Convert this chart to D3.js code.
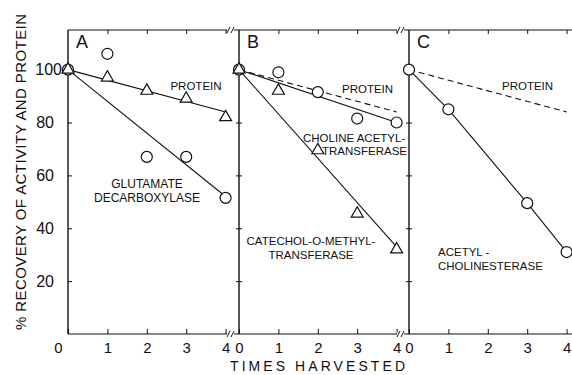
<!DOCTYPE html>
<html>
<head>
<meta charset="utf-8">
<script src="https://cdn.jsdelivr.net/npm/d3@7"></script>
<style>
  body { margin: 0; background: #fff; }
  svg { display: block; }
</style>
</head>
<body>
<svg width="572" height="375"></svg>
<script>
var times = [0, 1, 2, 3, 4];
var panelNames = ['A', 'B', 'C'];
var yTicks = [20, 40, 60, 80, 100];

// panel A
var proteinA = [100, 97, 92, 89, 82];
var glutamateA = [100, 106, 67, 67, 51.5];
// panel B
var cholineB = [100, 99, 91.5, 81.5, 80];
var catecholB = [100, 92, 69.5, 45.5, 32];
// panel C (nothing measured at 2)
var acetylC = [100, 85, null, 49.5, 31];

// fitted lines : value at first and last harvest
var fitTimes = [0, 4];
var proteinFitA = [100, 84];
var glutamateFitA = [100, 52];
var cholineFitB = [100, 80];
var catecholFitB = [100, 33];
var proteinFitB = [100, 84];
var proteinFitC = [100, 84];

var svg = d3.select('svg');
var narrow = '"Liberation Sans Narrow","Liberation Sans",Arial,sans-serif';
var plain = '"Liberation Sans",Arial,sans-serif';
var ink = '#111';

var panelLeft = [68, 239, 409];
var panelRight = [239, 409, 572];
var unit = 39.4;
var topY = 30, bottomY = 334;

var y = d3.scaleLinear().domain([0, 115]).range([bottomY, topY]);
var xs = panelLeft.map(function (x0) {
  return d3.scaleLinear().domain([0, 4]).range([x0, x0 + 4 * unit]);
});

// frame and axes
xs.forEach(function (x, i) {
  var x0 = panelLeft[i];

  svg.append('line')
  .attr('x1', x0).attr('x2', panelRight[i])
  .attr('y1', topY).attr('y2', topY)
  .attr('stroke', ink).attr('stroke-width', 1.2);

  svg.append('line')
  .attr('x1', x0).attr('x2', panelRight[i])
  .attr('y1', bottomY).attr('y2', bottomY)
  .attr('stroke', ink).attr('stroke-width', 1.2);

  svg.append('line')
  .attr('x1', x0).attr('x2', x0)
  .attr('y1', topY).attr('y2', bottomY)
  .attr('stroke', ink).attr('stroke-width', 1.4);

  var gb = svg.append('g')
  .attr('transform', 'translate(0,' + bottomY + ')')
  .call(d3.axisBottom(x).tickValues(times).tickSizeInner(-5).tickSizeOuter(0)
    .tickPadding(8).tickFormat(d3.format('d')));
  gb.select('.domain').remove();
  gb.attr('font-family', narrow).attr('font-size', 15);
  gb.selectAll('line').attr('stroke', ink);
  gb.selectAll('text').attr('fill', ink);
  if (i == 0) {
    gb.selectAll('text').filter(function (d) { return d == 0; }).attr('dx', -10);
  }

  var gt = svg.append('g')
  .attr('transform', 'translate(0,' + topY + ')')
  .call(d3.axisTop(x).tickValues(times.slice(1)).tickSizeInner(-4).tickSizeOuter(0).tickFormat(''));
  gt.select('.domain').remove();
  gt.selectAll('line').attr('stroke', ink);

  var gl;
  if (i == 0) {
    gl = svg.append('g')
    .attr('transform', 'translate(' + x0 + ',0)')
    .call(d3.axisLeft(y).tickValues(yTicks).tickSizeInner(-4).tickSizeOuter(0).tickPadding(14));
    gl.attr('font-family', narrow).attr('font-size', 16);
    gl.selectAll('text').attr('fill', ink);
    gl.selectAll('text').filter(function (d) { return d == 100; }).attr('dx', 8);
  } else {
    gl = svg.append('g')
    .attr('transform', 'translate(' + (x0 + 3) + ',0)')
    .call(d3.axisLeft(y).tickValues(yTicks).tickSizeInner(6).tickSizeOuter(0).tickFormat(''));
  }
  gl.select('.domain').remove();
  gl.selectAll('line').attr('stroke', ink);

  // panel letter
  svg.append('text')
  .text(panelNames[i])
  .attr('x', x0 + 8)
  .attr('y', 48)
  .attr('font-family', narrow)
  .attr('font-size', 18)
  .attr('fill', ink);
});

// axis breaks between panels
[1, 2].forEach(function (i) {
  [topY, bottomY].forEach(function (yy) {
    var bx = panelLeft[i] - 8;
    svg.append('rect')
    .attr('x', bx - 4).attr('y', yy - 1.5).attr('width', 7).attr('height', 3)
    .attr('fill', '#fff');
    svg.append('path')
    .attr('d', 'M' + (bx - 4) + ',' + (yy + 3) + ' L' + (bx - 1) + ',' + (yy - 3) +
      ' M' + (bx) + ',' + (yy + 3) + ' L' + (bx + 3) + ',' + (yy - 3))
    .attr('fill', 'none').attr('stroke', ink).attr('stroke-width', 1);
  });
});

function drawLine(x, xsVals, ysVals, dashed) {
  var pts = xsVals.map(function (t, k) { return [t, ysVals[k]]; })
  .filter(function (p) { return p[1] != null; });
  svg.append('path')
  .datum(pts)
  .attr('fill', 'none')
  .attr('stroke', ink)
  .attr('stroke-width', 1.1)
  .attr('stroke-dasharray', dashed ? '6,4' : null)
  .attr('d', d3.line().x(function (p) { return x(p[0]); }).y(function (p) { return y(p[1]); }));
}

function drawCircles(x, vals) {
  svg.append('g').selectAll('circle')
  .data(times.map(function (t, k) { return [t, vals[k]]; }).filter(function (p) { return p[1] != null; }))
  .enter().append('circle')
  .attr('cx', function (p) { return x(p[0]); })
  .attr('cy', function (p) { return y(p[1]); })
  .attr('r', 5.5)
  .attr('fill', '#fff')
  .attr('stroke', ink)
  .attr('stroke-width', 1.2);
}

function drawTriangles(x, vals) {
  svg.append('g').selectAll('path')
  .data(times.map(function (t, k) { return [t, vals[k]]; }))
  .enter().append('path')
  .attr('d', d3.symbol(d3.symbolTriangle, 62))
  .attr('transform', function (p) { return 'translate(' + x(p[0]) + ',' + y(p[1]) + ')'; })
  .attr('fill', '#fff')
  .attr('stroke', ink)
  .attr('stroke-width', 1.2);
}

// panel A
drawLine(xs[0], fitTimes, proteinFitA, false);
drawLine(xs[0], fitTimes, glutamateFitA, false);
drawCircles(xs[0], glutamateA);
drawTriangles(xs[0], proteinA);

// panel B
drawLine(xs[1], fitTimes, proteinFitB, true);
drawLine(xs[1], fitTimes, cholineFitB, false);
drawLine(xs[1], fitTimes, catecholFitB, false);
drawCircles(xs[1], cholineB);
drawTriangles(xs[1], catecholB);

// panel C
drawLine(xs[2], fitTimes, proteinFitC, true);
drawLine(xs[2], times, acetylC, false);
drawCircles(xs[2], acetylC);

// curve labels
function label(lines, x, y0, anchor, size) {
  var t = svg.append('text')
  .attr('font-family', plain)
  .attr('font-size', size || 11.5)
  .attr('fill', ink)
  .attr('text-anchor', anchor);
  lines.forEach(function (s, k) {
    t.append('tspan').attr('x', x).attr('y', y0 + k * 13.5).text(s);
  });
}

label(['PROTEIN'], 196, 90, 'middle');
label(['GLUTAMATE', 'DECARBOXYLASE'], 147, 188, 'middle', 12);
label(['PROTEIN'], 342, 93, 'start');
label(['CHOLINE ACETYL-'], 303, 142, 'start');
label(['TRANSFERASE'], 322, 155, 'start');
label(['CATECHOL-O-METHYL-', 'TRANSFERASE'], 311, 245, 'middle');
label(['PROTEIN'], 502, 90, 'start');
label(['ACETYL -', 'CHOLINESTERASE'], 438, 256, 'start');

// axis titles
svg.append('text')
.text('% RECOVERY OF ACTIVITY AND PROTEIN')
.attr('transform', 'translate(26,172) rotate(-90)')
.attr('text-anchor', 'middle')
.attr('font-family', plain)
.attr('font-size', 15)
.attr('textLength', 316)
.attr('lengthAdjust', 'spacing')
.attr('fill', ink);

svg.append('text')
.text('TIMES HARVESTED')
.attr('x', 230)
.attr('y', 371)
.attr('font-family', plain)
.attr('font-size', 14)
.attr('textLength', 175)
.attr('lengthAdjust', 'spacing')
.attr('fill', ink);
</script>
</body>
</html>
